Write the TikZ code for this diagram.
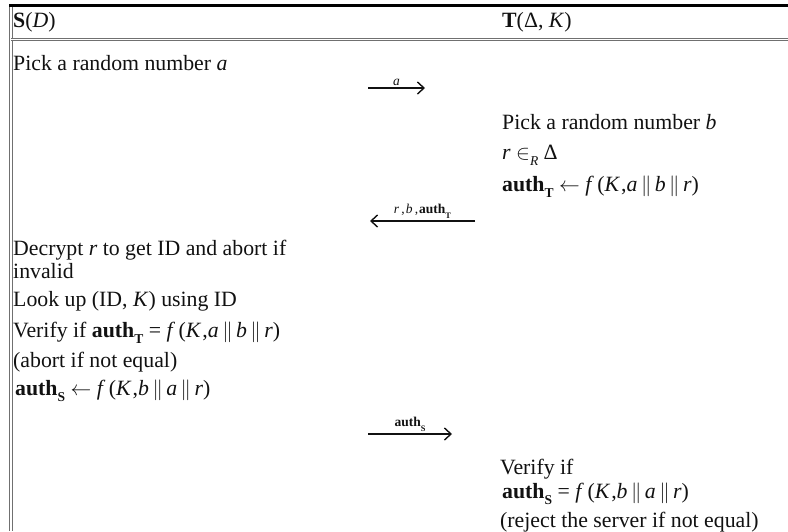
\documentclass[tikz,border=0pt]{standalone}
\usepackage{fontspec}
\setmainfont{Liberation Serif}
\usetikzlibrary{arrows.meta,positioning}
\definecolor{ruleGray}{HTML}{707070}
\definecolor{inkGray}{HTML}{111111}
\newcommand{\authof}[1]{\textbf{auth}\raisebox{-0.32em}{\scalebox{0.62}{\textbf{#1}}}}
\newcommand{\hashof}[3]{\textit{f}\,(\textit{K}\kern1pt,\textit{#1}$\,\|\,$\textit{#2}$\,\|\,$\textit{#3})}
\tikzset{
  step text/.style={anchor=base west,inner sep=0pt,text=inkGray,font=\fontsize{21.8}{26}\selectfont},
  msg arrow/.style={-{Straight Barb[length=6.5pt,width=12pt]},line width=1.4pt,draw=inkGray},
  msg label/.style={above=1pt,inner sep=1pt,text=inkGray,font=\fontsize{13.5}{15}\selectfont},
  table rule/.style={draw=ruleGray,double=white,line width=0.9pt,double distance=1.6pt}
}

\begin{document}
\begin{tikzpicture}[x=1pt,y=-1pt]
\useasboundingbox (0,0) rectangle (788,531);
% table frame
\draw[table rule] (11,5) -- (11,531);
\draw[table rule] (11,39.5) -- (788,39.5);
\draw[line width=3pt] (9,5) -- (788,5);
% header
\node[step text] (hs) at (13,27) {\textbf{S}(\textit{D})};
\node[step text] (ht) at (502,27) {\textbf{T}(Δ, \textit{K})};
% server side
\node[step text] (s1) at (13,70) {Pick a random number \textit{a}};
\node[step text] (s2) at (13,255) {Decrypt \textit{r} to get ID and abort if};
\node[step text] (s3) at (13,278) {invalid};
\node[step text] (s4) at (13,306) {Look up (ID, \textit{K}) using ID};
\node[step text] (s5) at (13,337) {Verify if \authof{T} = \hashof{a}{b}{r}};
\node[step text] (s6) at (13,367) {(abort if not equal)};
\node[step text] (s7) at (15,395) {\authof{S} $\leftarrow$ \hashof{b}{a}{r}};
% tag side
\node[step text] (t1) at (502,129) {Pick a random number \textit{b}};
\node[step text] (t2) at (502,159) {\textit{r} $\in$\raisebox{-0.3em}{\scalebox{0.62}{\textit{R}}} Δ};
\node[step text] (t3) at (502,191) {\authof{T} $\leftarrow$ \hashof{a}{b}{r}};
\node[step text] (t4) at (500,474) {Verify if};
\node[step text] (t5) at (502,498) {\authof{S} = \hashof{b}{a}{r}};
\node[step text] (t6) at (500,527) {(reject the server if not equal)};
% messages
\coordinate (m1a) at (368,88);
\coordinate (m1b) at (425,88);
\coordinate (m2a) at (475,221);
\coordinate (m2b) at (370,221);
\coordinate (m3a) at (368,434);
\coordinate (m3b) at (452,434);
\draw[msg arrow] (m1a) -- node[msg label] {\textit{a}} (m1b);
\draw[msg arrow] (m2a) -- node[msg label] {\textit{r}\,,\kern1pt\textit{b}\,,\kern1pt\authof{T}} (m2b);
\draw[msg arrow] (m3a) -- node[msg label] {\authof{S}} (m3b);
\end{tikzpicture}
\end{document}
